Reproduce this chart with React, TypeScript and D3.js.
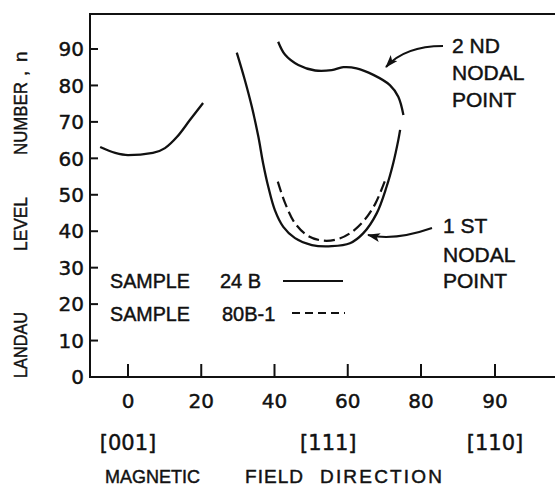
import React from 'react';
import * as d3 from 'd3';

// angle (deg) and Landau level
const leftDeg = [-7.6, -3.5, 0, 6.8, 10.1, 13.4, 16.9, 20.5];
const leftN = [63.1, 61.5, 60.9, 61.5, 62.8, 65.9, 70.5, 75.2];

const firstDeg = [29.7, 31.9, 33.8, 35.6, 36.9, 38.3, 40.1, 42.4, 45.6, 50.2, 55.6, 60.6, 64.2, 67.9, 70.6, 72.4, 73.8, 74.3];
const firstN = [89.0, 81.5, 74.2, 65.9, 58.6, 52.2, 45.8, 41.2, 38.1, 36.2, 35.9, 36.7, 39.4, 44.9, 52.2, 58.6, 65.0, 67.8];

const secondDeg = [41.0, 42.9, 46.5, 51.1, 55.6, 58.8, 62.4, 67.0, 71.5, 73.8, 75.2];
const secondN = [92.0, 88.4, 85.6, 84.1, 84.2, 85.0, 84.7, 82.9, 80.1, 76.9, 71.9];

// sample 80B-1 (dashed)
const dashDeg = [40.9, 42.9, 45.6, 49.2, 53.5, 57.5, 61.0, 64.5, 67.5, 70.6];
const dashN = [53.6, 47.7, 42.2, 38.7, 37.4, 37.9, 39.7, 43.0, 47.5, 55.0];

const xTicks = [0, 20, 40, 60, 80, 90];
const yTicks = [0, 10, 20, 30, 40, 50, 60, 70, 80, 90];
const directions = ['[001]', '[111]', '[110]'];
const directionDeg = [0, 54.7, 90];

const W = 555;
const H = 489;
const frame = { left: 90, top: 14, right: 560, bottom: 377 };
const numFont = 'DejaVu Sans';
const txtFont = 'Liberation Sans, Arial, sans-serif';
const ink = '#111';
const heavy = { stroke: ink, strokeWidth: 0.45 };

const App = () => {
  // the printed axis is stretched between 80 and 90
  const x = d3.scaleLinear().domain([0, 80, 90]).range([128, 421, 495]);
  const y = d3.scaleLinear().domain([0, 90]).range([377, 49]);

  const smooth = d3.line<[number, number]>()
    .x(d => x(d[0]))
    .y(d => y(d[1]))
    .curve(d3.curveCatmullRom.alpha(0.5));
  const mono = d3.line<[number, number]>()
    .x(d => x(d[0]))
    .y(d => y(d[1]))
    .curve(d3.curveMonotoneX);

  const pts = (a: number[], b: number[]) => a.map((v, i) => [v, b[i]] as [number, number]);

  return (
    <svg width={W} height={H} style={{ position: 'absolute', left: 0, top: 0, background: '#fff' }}>
      <defs>
        <marker id="ah" viewBox="0 0 13 9" refX="12" refY="4.5" markerWidth="13" markerHeight="9"
          markerUnits="userSpaceOnUse" orient="auto">
          <path d="M0,0 L13,4.5 L0,9 L3,4.5 Z" fill={ink} />
        </marker>
      </defs>

      {/* frame: left, top, bottom */}
      <path d={`M${frame.right},${frame.top} H${frame.left} V${frame.bottom} H${frame.right}`}
        fill="none" stroke={ink} strokeWidth={2} />

      {yTicks.map(t => (
        <g key={'y' + t}>
          <line x1={frame.left} x2={frame.left + 8} y1={y(t)} y2={y(t)} stroke={ink} strokeWidth={2} />
          <text x={84} y={y(t)} dy="0.36em" textAnchor="end" fontFamily={numFont} fontSize={20} fill={ink} {...heavy}>{t}</text>
        </g>
      ))}

      {xTicks.map(t => (
        <g key={'x' + t}>
          <line x1={x(t)} x2={x(t)} y1={frame.bottom} y2={frame.bottom - 13} stroke={ink} strokeWidth={2} />
          <text x={x(t)} y={408} textAnchor="middle" fontFamily={numFont} fontSize={20} fill={ink} {...heavy}>{t}</text>
        </g>
      ))}

      {directions.map((d, i) => (
        <text key={d} x={x(directionDeg[i])} y={450} textAnchor="middle" fontFamily={numFont} fontSize={21} fill={ink} {...heavy}>{d}</text>
      ))}

      {/* curves */}
      <path d={mono(pts(leftDeg, leftN)) || ''} fill="none" stroke={ink} strokeWidth={2.3} />
      <path d={smooth(pts(firstDeg, firstN)) || ''} fill="none" stroke={ink} strokeWidth={2.3} />
      <path d={smooth(pts(secondDeg, secondN)) || ''} fill="none" stroke={ink} strokeWidth={2.3} />
      <path d={smooth(pts(dashDeg, dashN)) || ''} fill="none" stroke={ink} strokeWidth={2.2} strokeDasharray="11,5" />

      {/* annotations */}
      <path d="M443,46 Q405,46 386,67" fill="none" stroke={ink} strokeWidth={2} markerEnd="url(#ah)" />
      <path d="M432,228 Q395,241 368,235" fill="none" stroke={ink} strokeWidth={2} markerEnd="url(#ah)" />
      <g fontFamily={txtFont} fontSize={21} fill={ink} {...heavy}>
        <text x={452} y={53}>2 ND</text>
        <text x={452} y={80}>NODAL</text>
        <text x={452} y={107}>POINT</text>
        <text x={443} y={233}>1 ST</text>
        <text x={443} y={262}>NODAL</text>
        <text x={443} y={288}>POINT</text>
      </g>

      {/* legend */}
      <g fontFamily={txtFont} fontSize={20} fill={ink} {...heavy}>
        <text x={110} y={288} textLength={80} lengthAdjust="spacingAndGlyphs">SAMPLE</text>
        <text x={220} y={288}>24 B</text>
        <text x={110} y={321} textLength={80} lengthAdjust="spacingAndGlyphs">SAMPLE</text>
        <text x={222} y={321}>80B-1</text>
      </g>
      <line x1={283} x2={343} y1={281} y2={281} stroke={ink} strokeWidth={2} />
      <line x1={292} x2={345} y1={313} y2={313} stroke={ink} strokeWidth={2} strokeDasharray="8,5" />

      {/* axis titles */}
      <g fontFamily={txtFont} fontSize={19} fill={ink} {...heavy}>
        <text transform="translate(27,378) rotate(-90)" textLength={66} lengthAdjust="spacingAndGlyphs">LANDAU</text>
        <text transform="translate(27,251) rotate(-90)" textLength={54} lengthAdjust="spacingAndGlyphs">LEVEL</text>
        <text transform="translate(27,155) rotate(-90)" textLength={73} lengthAdjust="spacingAndGlyphs">NUMBER</text>
        <text transform="translate(27,76) rotate(-90)">,</text>
        <text transform="translate(27,62) rotate(-90)">n</text>
      </g>
      <g fontFamily={txtFont} fontSize={19} fill={ink} {...heavy}>
        <text x={105} y={483} textLength={95} lengthAdjust="spacingAndGlyphs">MAGNETIC</text>
        <text x={245} y={483} textLength={58} lengthAdjust="spacing">FIELD</text>
        <text x={320} y={483} textLength={122} lengthAdjust="spacing">DIRECTION</text>
      </g>
    </svg>
  );
};

export default App;
